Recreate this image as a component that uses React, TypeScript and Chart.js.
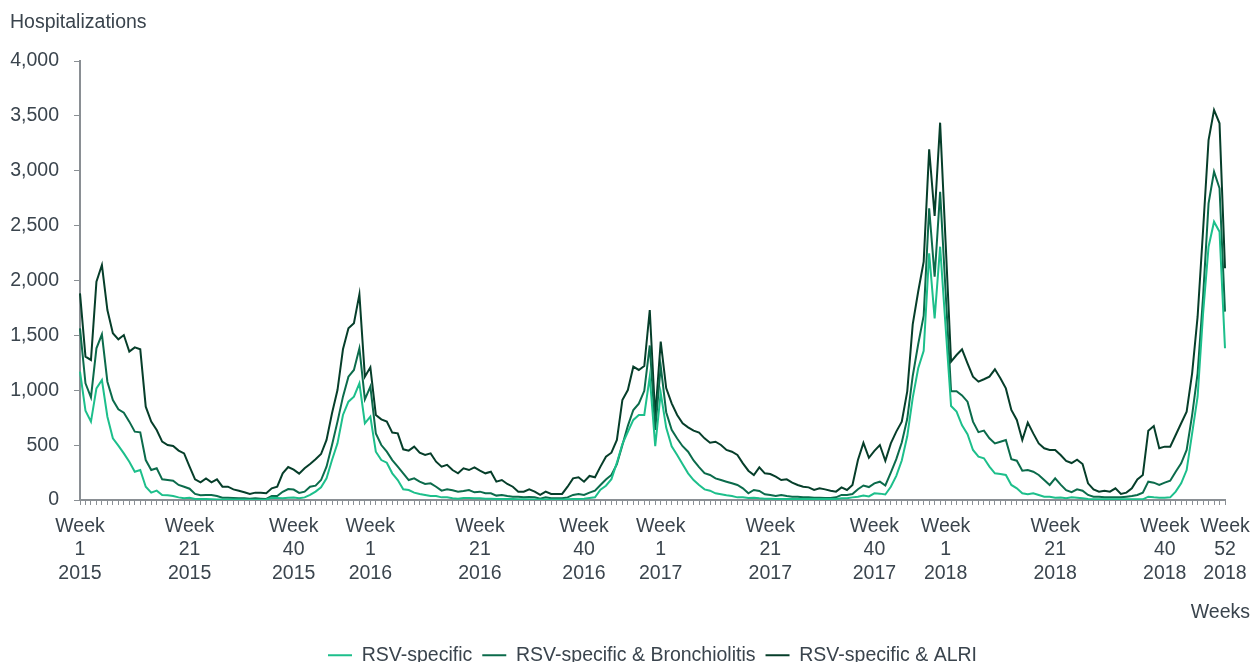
import React, { useEffect, useRef } from 'react';
import { Chart, registerables } from 'chart.js';

Chart.register(...registerables);

// Weekly hospitalizations, Week 1 2015 .. Week 52 2018 (210 weekly points)
const rsvSpecific = [
  1169, 814, 714, 1017, 1093, 759, 562, 495, 425, 349,
  258, 273, 121, 67, 85, 46, 43, 36, 24, 15,
  21, 10, 8, 8, 6, 5, 5, 5, 4, 4,
  4, 3, 3, 3, 5, 20, 18, 15, 20, 22,
  15, 24, 46, 76, 115, 197, 364, 516, 775, 896,
  942, 1063, 699, 759, 440, 364, 340, 243, 182, 97,
  91, 67, 55, 46, 36, 36, 24, 24, 15, 12,
  18, 18, 15, 15, 12, 12, 10, 10, 8, 8,
  6, 6, 5, 5, 4, 4, 4, 5, 5, 6,
  8, 10, 12, 18, 24, 94, 130, 190, 340, 510,
  620, 730, 775, 775, 1124, 490, 975, 660, 490, 410,
  325, 243, 182, 137, 97, 85, 61, 52, 43, 36,
  24, 24, 18, 21, 15, 12, 12, 10, 10, 9,
  9, 8, 8, 8, 8, 8, 8, 8, 10, 15,
  15, 24, 30, 40, 33, 61, 58, 50, 121, 220,
  360, 580, 930, 1200, 1360, 2248, 1655, 2308, 1580, 856,
  805, 680, 600, 456, 395, 380, 304, 243, 237, 228,
  137, 106, 61, 52, 61, 46, 30, 30, 21, 22,
  15, 25, 20, 15, 9, 6, 6, 6, 6, 6,
  6, 6, 6, 6, 6, 30, 24, 21, 21, 24,
  76, 152, 273, 607, 941, 1701, 2308, 2536, 2445, 1382,
];

const rsvBronchiolitis = [
  1564, 1063, 935, 1382, 1510, 1078, 911, 826, 796, 714,
  623, 617, 364, 273, 289, 188, 182, 176, 137, 121,
  103, 55, 43, 46, 46, 36, 21, 20, 18, 15,
  15, 12, 15, 12, 10, 36, 36, 75, 100, 95,
  65, 76, 121, 131, 182, 304, 501, 714, 942, 1124,
  1185, 1382, 917, 1033, 607, 501, 440, 364, 304, 243,
  182, 197, 167, 146, 152, 121, 85, 97, 88, 76,
  82, 91, 70, 76, 61, 61, 40, 46, 36, 30,
  30, 24, 27, 24, 12, 24, 15, 15, 15, 24,
  46, 55, 46, 67, 85, 136, 187, 228, 327, 500,
  675, 820, 878, 995, 1408, 638, 1221, 800, 640, 560,
  490, 440, 360, 300, 245, 228, 197, 182, 167, 152,
  137, 106, 61, 91, 82, 52, 46, 36, 46, 36,
  30, 30, 24, 24, 21, 21, 18, 18, 24, 46,
  46, 55, 98, 132, 118, 152, 167, 132, 250, 372,
  524, 740, 1130, 1420, 1680, 2658, 2035, 2809, 1900, 991,
  991, 953, 896, 714, 618, 632, 562, 516, 531, 547,
  371, 358, 267, 273, 258, 228, 182, 137, 197, 140,
  90, 72, 97, 85, 46, 30, 30, 24, 24, 24,
  24, 30, 36, 46, 67, 167, 158, 137, 158, 176,
  258, 334, 456, 774, 1154, 1853, 2703, 2992, 2840, 1716,
];

const rsvAlri = [
  1883, 1306, 1276, 1989, 2141, 1731, 1519, 1464, 1503, 1352,
  1391, 1373, 850, 714, 638, 532, 501, 492, 450, 425,
  304, 188, 161, 197, 161, 188, 121, 121, 97, 85,
  70, 55, 67, 67, 61, 106, 121, 243, 300, 276,
  240, 289, 328, 371, 419, 547, 790, 1002, 1373, 1564,
  1610, 1874, 1124, 1209, 775, 735, 714, 614, 607, 462,
  450, 486, 431, 410, 425, 349, 304, 320, 273, 243,
  289, 273, 298, 267, 243, 258, 167, 182, 146, 121,
  76, 76, 97, 76, 46, 76, 55, 55, 55, 121,
  197, 207, 167, 219, 207, 304, 395, 431, 547, 911,
  1002, 1215, 1185, 1221, 1731, 759, 1443, 1020, 881, 775,
  699, 662, 632, 614, 562, 522, 531, 501, 456, 440,
  410, 334, 267, 228, 298, 243, 237, 213, 182, 188,
  158, 137, 121, 115, 91, 106, 97, 85, 76, 115,
  91, 137, 364, 520, 385, 448, 501, 358, 516, 623,
  714, 990, 1600, 1900, 2172, 3195, 2588, 3438, 2350, 1260,
  1321, 1373, 1245, 1124, 1078, 1100, 1124, 1191, 1109, 1017,
  820, 729, 547, 705, 607, 516, 471, 456, 456, 410,
  357, 337, 368, 328, 152, 97, 76, 85, 76, 106,
  55, 67, 106, 188, 228, 632, 674, 471, 486, 486,
  592, 699, 805, 1154, 1670, 2460, 3280, 3554, 3432, 2111,
];

// Labelled weeks on the x axis (index into the weekly series)
const labelIndices = [0, 20, 39, 53, 73, 92, 106, 126, 145, 158, 178, 198, 209];
const labelWeeks = ['1', '21', '40', '1', '21', '40', '1', '21', '40', '1', '21', '40', '52'];
const labelYears = ['2015', '2015', '2015', '2016', '2016', '2016', '2017', '2017', '2017', '2018', '2018', '2018', '2018'];

const seriesNames = ['RSV-specific', 'RSV-specific & Bronchiolitis', 'RSV-specific & ALRI'];
const seriesColors = ['#1dbf8b', '#0b6b4b', '#063e2a'];

const yMin = 0;
const yMax = 4000;
const yStep = 500;

const textColor = '#3a444d';
const axisColor = '#8a8f94';
const FONT = '"Liberation Sans", Arial, Helvetica, sans-serif';
const FS = 19.5;

export default function App() {
  const ref = useRef<HTMLCanvasElement | null>(null);

  useEffect(() => {
    if (!ref.current) return;
    const labels: (string | string[])[] = rsvAlri.map((_, i) => {
      const k = labelIndices.indexOf(i);
      return k >= 0 ? ['Week', labelWeeks[k], labelYears[k]] : '';
    });
    const seriesData = [rsvSpecific, rsvBronchiolitis, rsvAlri];

    const weeksTitle = {
      id: 'weeksTitle',
      afterDraw(chart: any) {
        const ctx = chart.ctx;
        ctx.save();
        ctx.font = `${FS}px ${FONT}`;
        ctx.fillStyle = textColor;
        ctx.textAlign = 'right';
        ctx.textBaseline = 'middle';
        ctx.fillText('Weeks', chart.width - 2, 613);
        ctx.restore();
      },
    };

    const chart = new Chart(ref.current, {
      type: 'line',
      data: {
        labels,
        datasets: seriesNames.map((name, k) => ({
          label: name,
          data: seriesData[k],
          borderColor: seriesColors[k],
          backgroundColor: seriesColors[k],
          borderWidth: 2,
          pointRadius: 0,
          pointHoverRadius: 0,
          tension: 0,
          fill: false,
        })),
      },
      options: {
        responsive: false,
        animation: false,
        locale: 'en-US',
        layout: { padding: { left: 10, right: 27, top: 0, bottom: 0 } },
        font: { family: FONT },
        plugins: {
          tooltip: { enabled: false },
          title: {
            display: true,
            text: 'Hospitalizations',
            align: 'start',
            color: textColor,
            font: { family: FONT, size: FS, weight: 'normal', lineHeight: 1.2 },
            padding: { top: 10.6, bottom: 27 },
          },
          legend: {
            display: true,
            position: 'bottom',
            fullSize: false,
            labels: {
              usePointStyle: true,
              pointStyle: 'line',
              pointStyleWidth: 24,
              padding: 10,
              color: textColor,
              font: { family: FONT, size: FS },
            },
          },
        },
        scales: {
          x: {
            type: 'category',
            offset: false,
            grid: {
              display: true,
              drawOnChartArea: false,
              drawTicks: true,
              tickLength: 5,
              color: axisColor,
              lineWidth: 1,
            },
            border: { display: true, color: axisColor, width: 2 },
            ticks: {
              autoSkip: false,
              maxRotation: 0,
              minRotation: 0,
              padding: 10,
              color: textColor,
              font: { family: FONT, size: FS, lineHeight: 1.2 },
            },
            afterFit: (s: any) => {
              s.height = 135.5;
              s.paddingLeft = 0;
              s.paddingRight = 0;
            },
          },
          y: {
            min: yMin,
            max: yMax,
            ticks: {
              stepSize: yStep,
              padding: 15,
              color: textColor,
              font: { family: FONT, size: FS },
            },
            grid: {
              drawOnChartArea: false,
              drawTicks: true,
              tickLength: 6,
              color: axisColor,
              lineWidth: 1,
            },
            border: { display: true, color: axisColor, width: 2 },
            afterFit: (s: any) => { s.width = 70; },
          },
        },
      },
      plugins: [weeksTitle],
    } as any);

    return () => chart.destroy();
  }, []);

  return (
    <div style={{ position: 'fixed', left: 0, top: 0, width: 1252, height: 662, overflow: 'hidden', background: '#ffffff' }}>
      <canvas ref={ref} width={1252} height={675} style={{ display: 'block' }} />
    </div>
  );
}
